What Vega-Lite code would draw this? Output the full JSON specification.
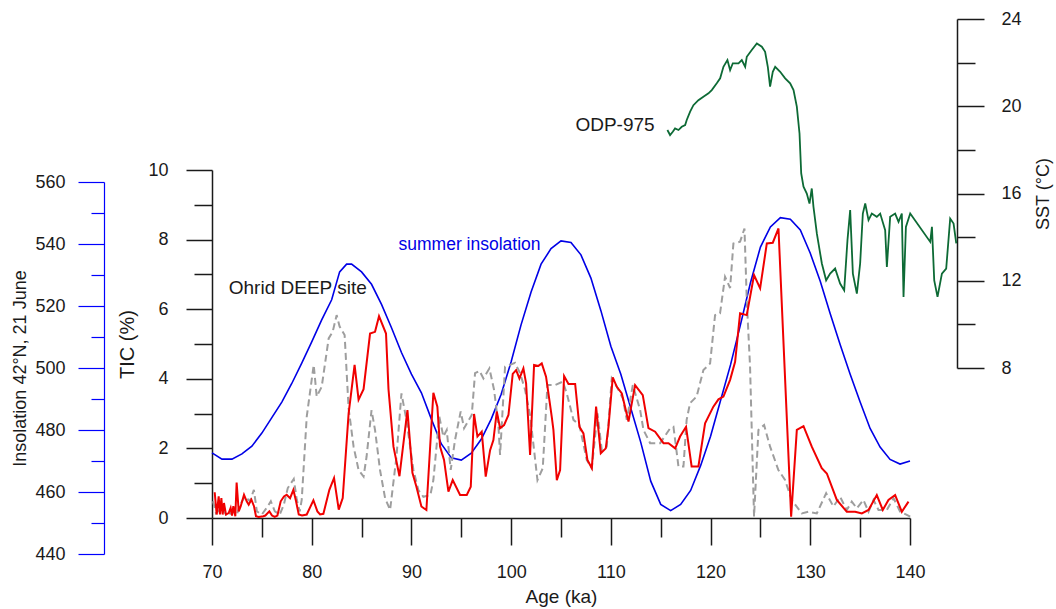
{
  "$schema": "https://vega.github.io/schema/vega-lite/v6.json",
  "autosize": "none",
  "padding": {"left": 212, "top": 170, "right": 146, "bottom": 91},
  "width": 698,
  "height": 348,
  "background": "white",
  "config": {
    "view": {"stroke": null},
    "font": "Liberation Sans",
    "axis": {
      "grid": false,
      "labelFlush": false,
      "labelOverlap": false,
      "labelFont": "Liberation Sans",
      "titleFont": "Liberation Sans",
      "labelFontSize": 18,
      "titleFontSize": 18,
      "titleFontWeight": "normal",
      "labelColor": "#1a1a1a",
      "titleColor": "#1a1a1a",
      "domainColor": "#1a1a1a",
      "tickColor": "#1a1a1a",
      "domainWidth": 1.5,
      "tickWidth": 1.5
    }
  },
  "datasets": {
    "ins": [
      {"age": 70, "ins": 472.6}, {"age": 71, "ins": 470.6}, {"age": 72, "ins": 470.6}, {"age": 73, "ins": 472.3},
      {"age": 74, "ins": 474.8}, {"age": 75, "ins": 479}, {"age": 76, "ins": 484}, {"age": 77, "ins": 489},
      {"age": 78, "ins": 495}, {"age": 79, "ins": 501.6}, {"age": 80, "ins": 508.4}, {"age": 81, "ins": 515.5},
      {"age": 82, "ins": 522}, {"age": 82.8, "ins": 531}, {"age": 83.5, "ins": 533.5}, {"age": 84, "ins": 533.5},
      {"age": 85, "ins": 531}, {"age": 86, "ins": 527}, {"age": 87, "ins": 520.5}, {"age": 88, "ins": 513},
      {"age": 89, "ins": 505}, {"age": 90, "ins": 498}, {"age": 91, "ins": 492}, {"age": 92, "ins": 483.5},
      {"age": 93, "ins": 475.5}, {"age": 94, "ins": 471}, {"age": 95, "ins": 470.3}, {"age": 96, "ins": 472.5},
      {"age": 97, "ins": 477}, {"age": 98, "ins": 483.5}, {"age": 99, "ins": 491.5}, {"age": 100, "ins": 502},
      {"age": 101, "ins": 514}, {"age": 102, "ins": 524.5}, {"age": 103, "ins": 533.5}, {"age": 104, "ins": 538.5},
      {"age": 105, "ins": 541}, {"age": 106, "ins": 540.5}, {"age": 107, "ins": 536.5}, {"age": 108, "ins": 529},
      {"age": 109, "ins": 518.5}, {"age": 110, "ins": 507}, {"age": 111, "ins": 498}, {"age": 112, "ins": 487},
      {"age": 113, "ins": 476}, {"age": 114, "ins": 463.5}, {"age": 115, "ins": 456}, {"age": 116, "ins": 454},
      {"age": 117, "ins": 456}, {"age": 118, "ins": 460.5}, {"age": 119, "ins": 468.5}, {"age": 120, "ins": 478},
      {"age": 121, "ins": 489.5}, {"age": 122, "ins": 501}, {"age": 123, "ins": 514}, {"age": 124, "ins": 527.5},
      {"age": 125, "ins": 539}, {"age": 126, "ins": 545.5}, {"age": 127, "ins": 548.5}, {"age": 128, "ins": 548},
      {"age": 129, "ins": 544.5}, {"age": 130, "ins": 537}, {"age": 131, "ins": 528}, {"age": 132, "ins": 517.5},
      {"age": 133, "ins": 507.5}, {"age": 134, "ins": 498}, {"age": 135, "ins": 489}, {"age": 136, "ins": 480.5},
      {"age": 137, "ins": 474.5}, {"age": 138, "ins": 470.5}, {"age": 139, "ins": 469}, {"age": 140, "ins": 470}
    ],
    "red": [
      {"age": 70.27, "tic": 0.74}, {"age": 70.47, "tic": 0.1}, {"age": 70.67, "tic": 0.62}, {"age": 70.8, "tic": 0.1},
      {"age": 70.94, "tic": 0.57}, {"age": 71.07, "tic": 0.1}, {"age": 71.2, "tic": 0.43}, {"age": 71.4, "tic": 0.1},
      {"age": 71.67, "tic": 0.14}, {"age": 71.87, "tic": 0.29}, {"age": 72.01, "tic": 0.07}, {"age": 72.14, "tic": 0.34},
      {"age": 72.34, "tic": 0.05}, {"age": 72.47, "tic": 1.02}, {"age": 72.68, "tic": 0.19}, {"age": 72.88, "tic": 0.34},
      {"age": 73.21, "tic": 0.67}, {"age": 73.48, "tic": 0.48}, {"age": 73.68, "tic": 0.38}, {"age": 73.95, "tic": 0.53},
      {"age": 74.21, "tic": 0.34}, {"age": 74.41, "tic": 0.05}, {"age": 74.68, "tic": 0.03}, {"age": 75.15, "tic": 0.05},
      {"age": 75.35, "tic": 0.07}, {"age": 75.75, "tic": 0.19}, {"age": 76.02, "tic": 0.07}, {"age": 76.29, "tic": 0.03},
      {"age": 76.56, "tic": 0.07}, {"age": 76.89, "tic": 0.48}, {"age": 77.22, "tic": 0.62}, {"age": 77.49, "tic": 0.67},
      {"age": 77.83, "tic": 0.57}, {"age": 78.16, "tic": 0.81}, {"age": 78.43, "tic": 0.48}, {"age": 78.7, "tic": 0.1},
      {"age": 79.03, "tic": 0.07}, {"age": 79.5, "tic": 0.1}, {"age": 80.17, "tic": 0.51}, {"age": 80.57, "tic": 0.19},
      {"age": 80.84, "tic": 0.1}, {"age": 81.17, "tic": 0.12}, {"age": 81.77, "tic": 0.81}, {"age": 82.24, "tic": 1.15},
      {"age": 82.71, "tic": 0.24}, {"age": 83.11, "tic": 0.57}, {"age": 83.7, "tic": 3.0}, {"age": 84.3, "tic": 4.4},
      {"age": 84.7, "tic": 3.4}, {"age": 85.2, "tic": 3.7}, {"age": 85.85, "tic": 5.3}, {"age": 86.35, "tic": 5.35},
      {"age": 86.75, "tic": 5.8}, {"age": 87.45, "tic": 5.3}, {"age": 87.7, "tic": 3.7}, {"age": 88.2, "tic": 2.05},
      {"age": 88.8, "tic": 1.2}, {"age": 89.6, "tic": 3.1}, {"age": 90.1, "tic": 1.3}, {"age": 90.5, "tic": 0.9},
      {"age": 91.0, "tic": 0.33}, {"age": 91.5, "tic": 0.23}, {"age": 92.2, "tic": 3.6}, {"age": 92.6, "tic": 3.2},
      {"age": 92.87, "tic": 2.05}, {"age": 93.27, "tic": 1.67}, {"age": 93.71, "tic": 0.76}, {"age": 94.14, "tic": 1.09},
      {"age": 94.88, "tic": 0.66}, {"age": 95.55, "tic": 0.66}, {"age": 95.95, "tic": 0.9}, {"age": 96.28, "tic": 2.99},
      {"age": 96.62, "tic": 2.34}, {"age": 97.05, "tic": 2.48}, {"age": 97.45, "tic": 1.19}, {"age": 97.89, "tic": 1.95},
      {"age": 98.22, "tic": 2.24}, {"age": 98.56, "tic": 3.06}, {"age": 98.89, "tic": 2.58}, {"age": 99.29, "tic": 2.67},
      {"age": 99.73, "tic": 2.96}, {"age": 100.16, "tic": 4.14}, {"age": 100.5, "tic": 4.25}, {"age": 100.83, "tic": 4.01},
      {"age": 101.23, "tic": 4.3}, {"age": 101.5, "tic": 3.87}, {"age": 101.9, "tic": 1.81}, {"age": 102.3, "tic": 4.4},
      {"age": 102.74, "tic": 4.37}, {"age": 103.07, "tic": 4.44}, {"age": 103.5, "tic": 4.06}, {"age": 103.74, "tic": 3.58},
      {"age": 104.07, "tic": 2.91}, {"age": 104.24, "tic": 2.53}, {"age": 104.58, "tic": 1.09}, {"age": 104.91, "tic": 1.38},
      {"age": 105.31, "tic": 4.08}, {"age": 105.75, "tic": 3.85}, {"age": 106.42, "tic": 3.85}, {"age": 106.85, "tic": 2.62},
      {"age": 107.25, "tic": 2.43}, {"age": 107.65, "tic": 1.67}, {"age": 108.09, "tic": 1.43}, {"age": 108.52, "tic": 3.2},
      {"age": 108.99, "tic": 1.86}, {"age": 109.49, "tic": 2.0}, {"age": 109.76, "tic": 2.62}, {"age": 110.19, "tic": 4.04},
      {"age": 110.6, "tic": 3.77}, {"age": 111.1, "tic": 3.58}, {"age": 111.77, "tic": 2.77}, {"age": 112.43, "tic": 3.82},
      {"age": 113.2, "tic": 3.53}, {"age": 113.77, "tic": 2.58}, {"age": 114.44, "tic": 2.48}, {"age": 115.28, "tic": 2.15},
      {"age": 115.78, "tic": 2.15}, {"age": 116.45, "tic": 2.0}, {"age": 116.94, "tic": 2.34}, {"age": 117.54, "tic": 2.62},
      {"age": 118.1, "tic": 1.48}, {"age": 118.78, "tic": 1.48}, {"age": 119.45, "tic": 2.72}, {"age": 120.28, "tic": 3.2},
      {"age": 120.79, "tic": 3.41}, {"age": 121.29, "tic": 3.49}, {"age": 121.96, "tic": 3.97}, {"age": 122.46, "tic": 4.49},
      {"age": 122.96, "tic": 5.88}, {"age": 123.63, "tic": 5.83}, {"age": 124.36, "tic": 6.98}, {"age": 124.97, "tic": 6.6},
      {"age": 125.64, "tic": 7.89}, {"age": 126.24, "tic": 7.91}, {"age": 126.81, "tic": 8.32}, {"age": 128.08, "tic": 0.04},
      {"age": 128.65, "tic": 2.53}, {"age": 129.32, "tic": 2.64}, {"age": 130.15, "tic": 2.05}, {"age": 131.15, "tic": 1.43},
      {"age": 131.66, "tic": 1.28}, {"age": 132.66, "tic": 0.52}, {"age": 133.66, "tic": 0.18}, {"age": 134.5, "tic": 0.18},
      {"age": 135.17, "tic": 0.13}, {"age": 135.84, "tic": 0.23}, {"age": 136.67, "tic": 0.66}, {"age": 137.27, "tic": 0.23},
      {"age": 137.84, "tic": 0.52}, {"age": 138.51, "tic": 0.66}, {"age": 139.18, "tic": 0.18}, {"age": 139.85, "tic": 0.47}
    ],
    "grey": [
      {"age": 70.1, "tic": 0.48}, {"age": 70.4, "tic": 0.14}, {"age": 71.0, "tic": 0.29}, {"age": 71.5, "tic": 0.05},
      {"age": 72.1, "tic": 0.19}, {"age": 72.5, "tic": 0.1}, {"age": 72.8, "tic": 0.38}, {"age": 73.3, "tic": 0.62},
      {"age": 73.8, "tic": 0.48}, {"age": 74.2, "tic": 0.81}, {"age": 74.5, "tic": 0.19}, {"age": 75.0, "tic": 0.1},
      {"age": 75.6, "tic": 0.34}, {"age": 75.9, "tic": 0.48}, {"age": 76.3, "tic": 0.19}, {"age": 76.8, "tic": 0.1},
      {"age": 77.2, "tic": 0.38}, {"age": 77.6, "tic": 0.86}, {"age": 78.2, "tic": 1.12}, {"age": 78.5, "tic": 0.53},
      {"age": 78.8, "tic": 0.19}, {"age": 79.0, "tic": 0.53}, {"age": 79.5, "tic": 2.91}, {"age": 80.2, "tic": 4.4},
      {"age": 80.5, "tic": 3.49}, {"age": 81.0, "tic": 3.77}, {"age": 81.7, "tic": 5.16}, {"age": 82.1, "tic": 5.35},
      {"age": 82.5, "tic": 5.83}, {"age": 82.8, "tic": 5.5}, {"age": 83.3, "tic": 5.26}, {"age": 83.7, "tic": 3.15},
      {"age": 84.2, "tic": 2.05}, {"age": 84.7, "tic": 1.38}, {"age": 85.2, "tic": 1.19}, {"age": 85.5, "tic": 1.76},
      {"age": 86.0, "tic": 3.1}, {"age": 86.35, "tic": 2.53}, {"age": 86.85, "tic": 1.38}, {"age": 87.36, "tic": 0.57},
      {"age": 87.86, "tic": 0.23}, {"age": 88.5, "tic": 1.76}, {"age": 89.0, "tic": 3.58}, {"age": 89.5, "tic": 2.82},
      {"age": 90.2, "tic": 1.38}, {"age": 90.7, "tic": 0.8}, {"age": 91.2, "tic": 0.61}, {"age": 91.9, "tic": 0.66},
      {"age": 92.2, "tic": 1.09}, {"age": 92.8, "tic": 2.91}, {"age": 93.2, "tic": 2.34}, {"age": 93.54, "tic": 2.53},
      {"age": 93.94, "tic": 1.38}, {"age": 94.37, "tic": 2.24}, {"age": 94.94, "tic": 3.06}, {"age": 95.28, "tic": 2.58},
      {"age": 96.05, "tic": 2.96}, {"age": 96.38, "tic": 4.16}, {"age": 96.82, "tic": 4.23}, {"age": 97.22, "tic": 4.01},
      {"age": 97.82, "tic": 4.3}, {"age": 98.29, "tic": 3.68}, {"age": 98.72, "tic": 2.67}, {"age": 98.89, "tic": 1.81},
      {"age": 99.39, "tic": 4.35}, {"age": 99.89, "tic": 4.4}, {"age": 100.39, "tic": 4.46}, {"age": 100.9, "tic": 4.16},
      {"age": 101.4, "tic": 3.68}, {"age": 101.9, "tic": 2.96}, {"age": 102.64, "tic": 1.09}, {"age": 103.17, "tic": 1.43},
      {"age": 103.64, "tic": 3.82}, {"age": 104.41, "tic": 3.82}, {"age": 105.18, "tic": 3.92}, {"age": 105.58, "tic": 3.58},
      {"age": 106.25, "tic": 2.82}, {"age": 106.85, "tic": 2.67}, {"age": 107.58, "tic": 1.67}, {"age": 108.09, "tic": 1.43},
      {"age": 108.66, "tic": 3.01}, {"age": 109.09, "tic": 1.95}, {"age": 109.59, "tic": 2.05}, {"age": 110.09, "tic": 4.01},
      {"age": 110.6, "tic": 3.77}, {"age": 111.2, "tic": 3.44}, {"age": 111.6, "tic": 2.82}, {"age": 112.2, "tic": 3.82},
      {"age": 112.94, "tic": 3.1}, {"age": 113.27, "tic": 2.53}, {"age": 113.94, "tic": 2.15}, {"age": 114.94, "tic": 2.15},
      {"age": 115.95, "tic": 2.58}, {"age": 116.28, "tic": 2.62}, {"age": 116.78, "tic": 1.48}, {"age": 117.28, "tic": 1.48},
      {"age": 117.6, "tic": 2.82}, {"age": 117.94, "tic": 3.3}, {"age": 118.6, "tic": 3.49}, {"age": 119.28, "tic": 4.25},
      {"age": 119.95, "tic": 4.44}, {"age": 120.45, "tic": 5.83}, {"age": 120.95, "tic": 5.88}, {"age": 121.45, "tic": 6.93},
      {"age": 121.96, "tic": 6.61}, {"age": 122.29, "tic": 7.89}, {"age": 122.96, "tic": 7.94}, {"age": 123.4, "tic": 8.32},
      {"age": 123.63, "tic": 6.26}, {"age": 123.96, "tic": 4.35}, {"age": 124.36, "tic": 0.04}, {"age": 124.8, "tic": 2.53},
      {"age": 125.37, "tic": 2.67}, {"age": 125.97, "tic": 2.05}, {"age": 126.8, "tic": 1.38}, {"age": 127.47, "tic": 1.09},
      {"age": 128.14, "tic": 0.52}, {"age": 129.15, "tic": 0.13}, {"age": 129.82, "tic": 0.18}, {"age": 130.65, "tic": 0.13},
      {"age": 131.59, "tic": 0.71}, {"age": 132.32, "tic": 0.33}, {"age": 132.99, "tic": 0.61}, {"age": 133.66, "tic": 0.23},
      {"age": 134.16, "tic": 0.47}, {"age": 134.67, "tic": 0.28}, {"age": 135.33, "tic": 0.52}, {"age": 135.84, "tic": 0.18},
      {"age": 136.34, "tic": 0.52}, {"age": 136.84, "tic": 0.23}, {"age": 137.68, "tic": 0.23}, {"age": 138.35, "tic": 0.57},
      {"age": 139.01, "tic": 0.18}, {"age": 139.68, "tic": 0.09}, {"age": 140.02, "tic": 0.04}
    ],
    "sst": [
      {"age": 115.67, "sst": 18.91}, {"age": 115.94, "sst": 18.68}, {"age": 116.21, "sst": 18.83}, {"age": 116.44, "sst": 18.98},
      {"age": 116.78, "sst": 18.91}, {"age": 117.11, "sst": 19.06}, {"age": 117.45, "sst": 19.14}, {"age": 117.61, "sst": 19.37},
      {"age": 117.95, "sst": 19.75}, {"age": 118.28, "sst": 20.05}, {"age": 118.78, "sst": 20.28}, {"age": 119.28, "sst": 20.44},
      {"age": 119.79, "sst": 20.59}, {"age": 120.12, "sst": 20.74}, {"age": 120.62, "sst": 21.05}, {"age": 120.96, "sst": 21.28},
      {"age": 121.29, "sst": 21.81}, {"age": 121.69, "sst": 22.12}, {"age": 121.96, "sst": 21.66}, {"age": 122.23, "sst": 21.97},
      {"age": 122.8, "sst": 21.97}, {"age": 123.13, "sst": 22.12}, {"age": 123.47, "sst": 21.81}, {"age": 123.63, "sst": 22.27},
      {"age": 124.13, "sst": 22.58}, {"age": 124.64, "sst": 22.88}, {"age": 125.14, "sst": 22.73}, {"age": 125.47, "sst": 22.5},
      {"age": 125.74, "sst": 21.81}, {"age": 125.97, "sst": 20.9}, {"age": 126.24, "sst": 21.58}, {"age": 126.48, "sst": 21.81},
      {"age": 126.98, "sst": 21.58}, {"age": 127.48, "sst": 21.28}, {"age": 127.98, "sst": 21.05}, {"age": 128.32, "sst": 20.74},
      {"age": 128.65, "sst": 19.98}, {"age": 128.92, "sst": 18.75}, {"age": 129.09, "sst": 16.92}, {"age": 129.32, "sst": 16.31},
      {"age": 129.65, "sst": 16.0}, {"age": 129.92, "sst": 15.54}, {"age": 130.15, "sst": 16.23}, {"age": 130.32, "sst": 15.39},
      {"age": 130.66, "sst": 14.16}, {"age": 131.16, "sst": 12.79}, {"age": 131.59, "sst": 12.02}, {"age": 131.99, "sst": 12.33},
      {"age": 132.49, "sst": 12.56}, {"age": 132.99, "sst": 11.87}, {"age": 133.4, "sst": 11.56}, {"age": 133.73, "sst": 13.86},
      {"age": 134.0, "sst": 15.24}, {"age": 134.27, "sst": 12.33}, {"age": 134.67, "sst": 11.41}, {"age": 135.0, "sst": 12.79},
      {"age": 135.27, "sst": 15.08}, {"age": 135.51, "sst": 15.54}, {"age": 135.84, "sst": 14.78}, {"age": 136.17, "sst": 15.08},
      {"age": 136.67, "sst": 14.93}, {"age": 137.01, "sst": 15.08}, {"age": 137.51, "sst": 14.32}, {"age": 137.68, "sst": 12.63},
      {"age": 138.01, "sst": 14.93}, {"age": 138.51, "sst": 15.08}, {"age": 138.85, "sst": 14.7}, {"age": 139.18, "sst": 15.08},
      {"age": 139.35, "sst": 11.26}, {"age": 139.59, "sst": 14.47}, {"age": 140.02, "sst": 15.08}, {"age": 142.03, "sst": 13.78},
      {"age": 142.2, "sst": 14.47}, {"age": 142.43, "sst": 12.02}, {"age": 142.76, "sst": 11.26}, {"age": 143.2, "sst": 12.33},
      {"age": 143.63, "sst": 12.56}, {"age": 144.03, "sst": 14.85}, {"age": 144.37, "sst": 14.62}, {"age": 144.64, "sst": 13.71}
    ]
  },
  "encoding": {
    "x": {
      "field": "age",
      "type": "quantitative",
      "scale": {"domain": [70, 140], "nice": false, "zero": false},
      "axis": {
        "title": "Age (ka)",
        "values": [70, 75, 80, 85, 90, 95, 100, 105, 110, 115, 120, 125, 130, 135, 140],
        "labelExpr": "datum.value % 10 === 0 ? datum.label : ''",
        "tickSize": {"condition": {"test": "datum.value % 10 === 0", "value": 27}, "value": 19},
        "labelPadding": 18,
        "titlePadding": 6,
        "titleFontSize": 19
      }
    }
  },
  "layer": [
    {
      "data": {"name": "ins"},
      "mark": {"type": "line", "color": "#0000e6", "strokeWidth": 1.6},
      "encoding": {
        "y": {
          "field": "ins",
          "type": "quantitative",
          "scale": {"domain": [440, 560], "range": [384, 12], "nice": false, "zero": false},
          "axis": {
            "orient": "left",
            "offset": 108,
            "title": "Insolation 42°N, 21 June",
            "values": [440, 450, 460, 470, 480, 490, 500, 510, 520, 530, 540, 550, 560],
            "labelExpr": "datum.value % 20 === 0 ? datum.label : ''",
            "tickSize": {"condition": {"test": "datum.value % 20 === 0", "value": 26}, "value": 13},
            "domainColor": "#0000ff",
            "tickColor": "#0000ff",
            "domainWidth": 1.2,
            "tickWidth": 1.2,
            "labelPadding": 13,
            "titlePadding": 5
          }
        }
      }
    },
    {
      "data": {"name": "grey"},
      "mark": {"type": "line", "color": "#9e9e9e", "strokeWidth": 2, "strokeDash": [7, 4]},
      "encoding": {
        "y": {
          "field": "tic",
          "type": "quantitative",
          "scale": {"domain": [0, 10], "range": [348, 0], "nice": false, "zero": false},
          "axis": {
            "orient": "left",
            "title": "TIC (%)",
            "titleFontSize": 20,
            "values": [0, 1, 2, 3, 4, 5, 6, 7, 8, 9, 10],
            "labelExpr": "datum.value % 2 === 0 ? datum.label : ''",
            "tickSize": {"condition": {"test": "datum.value % 2 === 0", "value": 26}, "value": 18},
            "labelPadding": 18,
            "titlePadding": 10
          }
        }
      }
    },
    {
      "data": {"name": "red"},
      "mark": {"type": "line", "color": "#f00000", "strokeWidth": 2},
      "encoding": {
        "y": {
          "field": "tic",
          "type": "quantitative",
          "scale": {"domain": [0, 10], "range": [348, 0], "nice": false, "zero": false},
          "axis": null
        }
      }
    },
    {
      "data": {"name": "sst"},
      "mark": {"type": "line", "color": "#0d6a35", "strokeWidth": 1.8},
      "encoding": {
        "y": {
          "field": "sst",
          "type": "quantitative",
          "scale": {"domain": [8, 24], "range": [198, -151], "nice": false, "zero": false},
          "axis": {
            "orient": "right",
            "offset": 47,
            "title": "SST (°C)",
            "titleAngle": 270,
            "titleBaseline": "top",
            "values": [8, 10, 12, 14, 16, 18, 20, 22, 24],
            "labelExpr": "datum.value % 4 === 0 ? datum.label : ''",
            "tickSize": {"condition": {"test": "datum.value % 4 === 0", "value": 27}, "value": 18},
            "labelPadding": 17,
            "titlePadding": 13
          }
        }
      }
    },
    {
      "data": {"values": [{"age": 78.6, "tic": 6.61, "note": "Ohrid DEEP site"}]},
      "mark": {"type": "text", "fontSize": 19, "color": "#1a1a1a", "align": "center", "baseline": "middle"},
      "encoding": {
        "y": {"field": "tic", "type": "quantitative", "scale": {"domain": [0, 10], "range": [348, 0], "nice": false, "zero": false}, "axis": null},
        "text": {"field": "note"}
      }
    },
    {
      "data": {"values": [{"age": 95.83, "tic": 7.84, "note": "summer insolation"}]},
      "mark": {"type": "text", "fontSize": 17.5, "color": "#0000e6", "align": "center", "baseline": "middle"},
      "encoding": {
        "y": {"field": "tic", "type": "quantitative", "scale": {"domain": [0, 10], "range": [348, 0], "nice": false, "zero": false}, "axis": null},
        "text": {"field": "note"}
      }
    },
    {
      "data": {"values": [{"age": 110.42, "sst": 19.15, "note": "ODP-975"}]},
      "mark": {"type": "text", "fontSize": 19, "color": "#1a1a1a", "align": "center", "baseline": "middle"},
      "encoding": {
        "y": {"field": "sst", "type": "quantitative", "scale": {"domain": [8, 24], "range": [198, -151], "nice": false, "zero": false}, "axis": null},
        "text": {"field": "note"}
      }
    }
  ],
  "resolve": {"scale": {"y": "independent"}, "axis": {"y": "independent"}}
}
